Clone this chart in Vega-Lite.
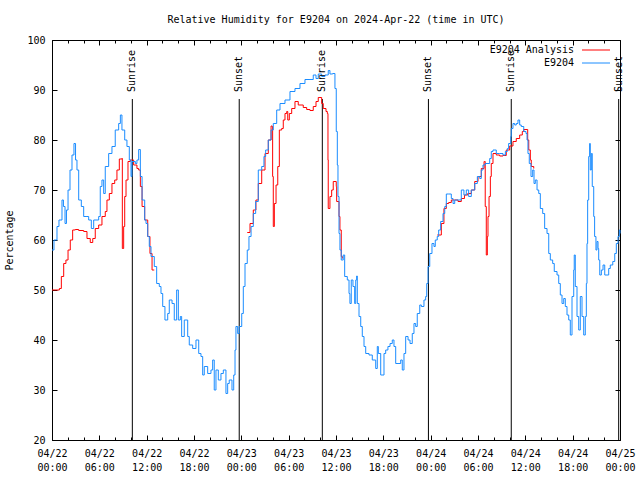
{
  "$schema": "https://vega.github.io/schema/vega-lite/v6.json",
  "width": 568,
  "height": 400,
  "autosize": {"type": "none"},
  "padding": {"left": 52, "top": 40, "right": 20, "bottom": 40},
  "background": "white",
  "title": {"text": "Relative Humidity for E9204 on 2024-Apr-22 (time in UTC)", "font": "DejaVu Sans Mono", "fontSize": 10, "fontWeight": "normal", "color": "black", "anchor": "middle", "frame": "group", "baseline": "bottom", "offset": 0},
  "config": {
    "view": {"stroke": "black", "strokeWidth": 1},
    "font": "DejaVu Sans Mono",
    "axis": {"labelFont": "DejaVu Sans Mono", "labelFontSize": 10, "labelColor": "black", "tickColor": "black", "tickWidth": 1, "domain": false, "grid": false, "titleFont": "DejaVu Sans Mono", "titleFontSize": 10, "titleFontWeight": "normal", "titleColor": "black"}
  },
  "datasets": {
    "sun": [
      {"time": "2024-04-22T10:11:00Z", "event": "Sunrise"},
      {"time": "2024-04-22T23:44:00Z", "event": "Sunset"},
      {"time": "2024-04-23T10:16:00Z", "event": "Sunrise"},
      {"time": "2024-04-23T23:43:00Z", "event": "Sunset"},
      {"time": "2024-04-24T10:13:00Z", "event": "Sunrise"},
      {"time": "2024-04-24T23:50:00Z", "event": "Sunset"}
    ],
    "analysis": [
      {"time": "2024-04-22T00:00:00Z", "rh": 50, "run": 1},
      {"time": "2024-04-22T00:38:00Z", "rh": 50, "run": 1},
      {"time": "2024-04-22T00:56:00Z", "rh": 50.3, "run": 1},
      {"time": "2024-04-22T01:11:00Z", "rh": 52.7, "run": 1},
      {"time": "2024-04-22T01:29:00Z", "rh": 55.3, "run": 1},
      {"time": "2024-04-22T01:46:00Z", "rh": 56, "run": 1},
      {"time": "2024-04-22T02:02:00Z", "rh": 58, "run": 1},
      {"time": "2024-04-22T02:19:00Z", "rh": 60, "run": 1},
      {"time": "2024-04-22T02:37:00Z", "rh": 62, "run": 1},
      {"time": "2024-04-22T02:57:00Z", "rh": 62.1, "run": 1},
      {"time": "2024-04-22T03:23:00Z", "rh": 61.9, "run": 1},
      {"time": "2024-04-22T04:01:00Z", "rh": 61.7, "run": 1},
      {"time": "2024-04-22T04:26:00Z", "rh": 60.3, "run": 1},
      {"time": "2024-04-22T04:51:00Z", "rh": 59.5, "run": 1},
      {"time": "2024-04-22T05:10:00Z", "rh": 60.3, "run": 1},
      {"time": "2024-04-22T05:29:00Z", "rh": 62.3, "run": 1},
      {"time": "2024-04-22T05:55:00Z", "rh": 63, "run": 1},
      {"time": "2024-04-22T06:20:00Z", "rh": 64.7, "run": 1},
      {"time": "2024-04-22T06:45:00Z", "rh": 65.7, "run": 1},
      {"time": "2024-04-22T06:58:00Z", "rh": 68, "run": 1},
      {"time": "2024-04-22T07:16:00Z", "rh": 69.3, "run": 1},
      {"time": "2024-04-22T07:36:00Z", "rh": 71.3, "run": 1},
      {"time": "2024-04-22T07:57:00Z", "rh": 72, "run": 1},
      {"time": "2024-04-22T08:14:00Z", "rh": 74, "run": 1},
      {"time": "2024-04-22T08:32:00Z", "rh": 76.2, "run": 1},
      {"time": "2024-04-22T08:52:00Z", "rh": 76.3, "run": 1},
      {"time": "2024-04-22T08:55:00Z", "rh": 58.3, "run": 1},
      {"time": "2024-04-22T09:05:00Z", "rh": 62.7, "run": 1},
      {"time": "2024-04-22T09:13:00Z", "rh": 68.7, "run": 1},
      {"time": "2024-04-22T09:23:00Z", "rh": 72, "run": 1},
      {"time": "2024-04-22T09:38:00Z", "rh": 75.7, "run": 1},
      {"time": "2024-04-22T09:56:00Z", "rh": 76, "run": 1},
      {"time": "2024-04-22T10:21:00Z", "rh": 75, "run": 1},
      {"time": "2024-04-22T10:46:00Z", "rh": 74.3, "run": 1},
      {"time": "2024-04-22T10:59:00Z", "rh": 74, "run": 1},
      {"time": "2024-04-22T11:12:00Z", "rh": 70.7, "run": 1},
      {"time": "2024-04-22T11:25:00Z", "rh": 66.7, "run": 1},
      {"time": "2024-04-22T11:45:00Z", "rh": 64, "run": 1},
      {"time": "2024-04-22T12:08:00Z", "rh": 60.7, "run": 1},
      {"time": "2024-04-22T12:25:00Z", "rh": 57.3, "run": 1},
      {"time": "2024-04-22T12:41:00Z", "rh": 54, "run": 1},
      {"time": "2024-04-22T12:58:00Z", "rh": 54, "run": 1},
      {"time": "2024-04-23T00:45:00Z", "rh": 61.5, "run": 2},
      {"time": "2024-04-23T01:06:00Z", "rh": 63.3, "run": 2},
      {"time": "2024-04-23T01:31:00Z", "rh": 66, "run": 2},
      {"time": "2024-04-23T01:51:00Z", "rh": 68, "run": 2},
      {"time": "2024-04-23T02:09:00Z", "rh": 71.3, "run": 2},
      {"time": "2024-04-23T02:35:00Z", "rh": 74, "run": 2},
      {"time": "2024-04-23T03:00:00Z", "rh": 77.3, "run": 2},
      {"time": "2024-04-23T03:25:00Z", "rh": 80, "run": 2},
      {"time": "2024-04-23T03:46:00Z", "rh": 82.8, "run": 2},
      {"time": "2024-04-23T03:55:00Z", "rh": 82.7, "run": 2},
      {"time": "2024-04-23T03:58:00Z", "rh": 72.7, "run": 2},
      {"time": "2024-04-23T04:03:00Z", "rh": 62.7, "run": 2},
      {"time": "2024-04-23T04:11:00Z", "rh": 67.3, "run": 2},
      {"time": "2024-04-23T04:24:00Z", "rh": 71, "run": 2},
      {"time": "2024-04-23T04:37:00Z", "rh": 74.7, "run": 2},
      {"time": "2024-04-23T04:49:00Z", "rh": 82, "run": 2},
      {"time": "2024-04-23T05:07:00Z", "rh": 82.3, "run": 2},
      {"time": "2024-04-23T05:19:00Z", "rh": 84, "run": 2},
      {"time": "2024-04-23T05:32:00Z", "rh": 85.3, "run": 2},
      {"time": "2024-04-23T05:45:00Z", "rh": 85.7, "run": 2},
      {"time": "2024-04-23T05:53:00Z", "rh": 84, "run": 2},
      {"time": "2024-04-23T06:05:00Z", "rh": 85.3, "run": 2},
      {"time": "2024-04-23T06:23:00Z", "rh": 86.3, "run": 2},
      {"time": "2024-04-23T06:48:00Z", "rh": 87.7, "run": 2},
      {"time": "2024-04-23T07:13:00Z", "rh": 87, "run": 2},
      {"time": "2024-04-23T07:51:00Z", "rh": 86.5, "run": 2},
      {"time": "2024-04-23T08:17:00Z", "rh": 86.1, "run": 2},
      {"time": "2024-04-23T08:42:00Z", "rh": 85.9, "run": 2},
      {"time": "2024-04-23T09:07:00Z", "rh": 86.7, "run": 2},
      {"time": "2024-04-23T09:28:00Z", "rh": 87.7, "run": 2},
      {"time": "2024-04-23T09:45:00Z", "rh": 88.5, "run": 2},
      {"time": "2024-04-23T09:58:00Z", "rh": 88.5, "run": 2},
      {"time": "2024-04-23T10:11:00Z", "rh": 87.3, "run": 2},
      {"time": "2024-04-23T10:23:00Z", "rh": 86.3, "run": 2},
      {"time": "2024-04-23T10:44:00Z", "rh": 85.7, "run": 2},
      {"time": "2024-04-23T10:54:00Z", "rh": 85.3, "run": 2},
      {"time": "2024-04-23T10:59:00Z", "rh": 76, "run": 2},
      {"time": "2024-04-23T11:01:00Z", "rh": 66.3, "run": 2},
      {"time": "2024-04-23T11:14:00Z", "rh": 68.7, "run": 2},
      {"time": "2024-04-23T11:27:00Z", "rh": 70, "run": 2},
      {"time": "2024-04-23T11:39:00Z", "rh": 71.7, "run": 2},
      {"time": "2024-04-23T12:02:00Z", "rh": 70.7, "run": 2},
      {"time": "2024-04-23T12:05:00Z", "rh": 67.7, "run": 2},
      {"time": "2024-04-23T12:23:00Z", "rh": 64.7, "run": 2},
      {"time": "2024-04-23T12:30:00Z", "rh": 62, "run": 2},
      {"time": "2024-04-23T12:40:00Z", "rh": 56.7, "run": 2},
      {"time": "2024-04-23T12:48:00Z", "rh": 56.3, "run": 2},
      {"time": "2024-04-24T00:50:00Z", "rh": 61, "run": 3},
      {"time": "2024-04-24T01:21:00Z", "rh": 63.3, "run": 3},
      {"time": "2024-04-24T01:41:00Z", "rh": 66.3, "run": 3},
      {"time": "2024-04-24T01:59:00Z", "rh": 67.3, "run": 3},
      {"time": "2024-04-24T02:17:00Z", "rh": 67.5, "run": 3},
      {"time": "2024-04-24T02:37:00Z", "rh": 68, "run": 3},
      {"time": "2024-04-24T03:03:00Z", "rh": 68, "run": 3},
      {"time": "2024-04-24T03:28:00Z", "rh": 67.7, "run": 3},
      {"time": "2024-04-24T03:53:00Z", "rh": 68.3, "run": 3},
      {"time": "2024-04-24T04:17:00Z", "rh": 69, "run": 3},
      {"time": "2024-04-24T04:42:00Z", "rh": 69.3, "run": 3},
      {"time": "2024-04-24T05:09:00Z", "rh": 70, "run": 3},
      {"time": "2024-04-24T05:35:00Z", "rh": 71.7, "run": 3},
      {"time": "2024-04-24T06:00:00Z", "rh": 72.7, "run": 3},
      {"time": "2024-04-24T06:25:00Z", "rh": 74.3, "run": 3},
      {"time": "2024-04-24T06:46:00Z", "rh": 75.7, "run": 3},
      {"time": "2024-04-24T06:51:00Z", "rh": 75.7, "run": 3},
      {"time": "2024-04-24T06:55:00Z", "rh": 66.7, "run": 3},
      {"time": "2024-04-24T07:03:00Z", "rh": 57, "run": 3},
      {"time": "2024-04-24T07:11:00Z", "rh": 60.7, "run": 3},
      {"time": "2024-04-24T07:16:00Z", "rh": 64.7, "run": 3},
      {"time": "2024-04-24T07:24:00Z", "rh": 68.7, "run": 3},
      {"time": "2024-04-24T07:34:00Z", "rh": 72.7, "run": 3},
      {"time": "2024-04-24T07:41:00Z", "rh": 75.3, "run": 3},
      {"time": "2024-04-24T07:54:00Z", "rh": 77.3, "run": 3},
      {"time": "2024-04-24T08:19:00Z", "rh": 77, "run": 3},
      {"time": "2024-04-24T08:45:00Z", "rh": 76.8, "run": 3},
      {"time": "2024-04-24T09:10:00Z", "rh": 76.9, "run": 3},
      {"time": "2024-04-24T09:35:00Z", "rh": 78, "run": 3},
      {"time": "2024-04-24T10:01:00Z", "rh": 78.8, "run": 3},
      {"time": "2024-04-24T10:26:00Z", "rh": 79.7, "run": 3},
      {"time": "2024-04-24T10:51:00Z", "rh": 80.3, "run": 3},
      {"time": "2024-04-24T11:17:00Z", "rh": 81, "run": 3},
      {"time": "2024-04-24T11:37:00Z", "rh": 81.7, "run": 3},
      {"time": "2024-04-24T11:48:00Z", "rh": 82.1, "run": 3},
      {"time": "2024-04-24T12:05:00Z", "rh": 82.1, "run": 3},
      {"time": "2024-04-24T12:18:00Z", "rh": 80, "run": 3},
      {"time": "2024-04-24T12:26:00Z", "rh": 78, "run": 3},
      {"time": "2024-04-24T12:38:00Z", "rh": 76, "run": 3},
      {"time": "2024-04-24T12:45:00Z", "rh": 74.7, "run": 3},
      {"time": "2024-04-24T13:04:00Z", "rh": 74.3, "run": 3}
    ],
    "obs": [
      {"time": "2024-04-22T00:00:00Z", "rh": 58},
      {"time": "2024-04-22T00:15:00Z", "rh": 60},
      {"time": "2024-04-22T00:38:00Z", "rh": 62.7},
      {"time": "2024-04-22T00:53:00Z", "rh": 64},
      {"time": "2024-04-22T01:16:00Z", "rh": 68},
      {"time": "2024-04-22T01:27:00Z", "rh": 66.7},
      {"time": "2024-04-22T01:39:00Z", "rh": 63.3},
      {"time": "2024-04-22T01:50:00Z", "rh": 66},
      {"time": "2024-04-22T02:02:00Z", "rh": 70},
      {"time": "2024-04-22T02:17:00Z", "rh": 74},
      {"time": "2024-04-22T02:32:00Z", "rh": 77},
      {"time": "2024-04-22T02:47:00Z", "rh": 79.3},
      {"time": "2024-04-22T02:59:00Z", "rh": 76},
      {"time": "2024-04-22T03:10:00Z", "rh": 74},
      {"time": "2024-04-22T03:23:00Z", "rh": 68},
      {"time": "2024-04-22T03:43:00Z", "rh": 66.7},
      {"time": "2024-04-22T04:01:00Z", "rh": 64.7},
      {"time": "2024-04-22T04:19:00Z", "rh": 64.7},
      {"time": "2024-04-22T04:39:00Z", "rh": 64},
      {"time": "2024-04-22T04:59:00Z", "rh": 62.3},
      {"time": "2024-04-22T05:17:00Z", "rh": 64},
      {"time": "2024-04-22T05:35:00Z", "rh": 64},
      {"time": "2024-04-22T05:55:00Z", "rh": 64.7},
      {"time": "2024-04-22T06:07:00Z", "rh": 70.7},
      {"time": "2024-04-22T06:20:00Z", "rh": 72},
      {"time": "2024-04-22T06:33:00Z", "rh": 69.3},
      {"time": "2024-04-22T06:45:00Z", "rh": 74.7},
      {"time": "2024-04-22T07:11:00Z", "rh": 77.3},
      {"time": "2024-04-22T07:36:00Z", "rh": 78.7},
      {"time": "2024-04-22T08:01:00Z", "rh": 82},
      {"time": "2024-04-22T08:27:00Z", "rh": 83.3},
      {"time": "2024-04-22T08:40:00Z", "rh": 85},
      {"time": "2024-04-22T08:52:00Z", "rh": 82},
      {"time": "2024-04-22T09:13:00Z", "rh": 80},
      {"time": "2024-04-22T09:30:00Z", "rh": 78.7},
      {"time": "2024-04-22T09:48:00Z", "rh": 76},
      {"time": "2024-04-22T10:01:00Z", "rh": 72.7},
      {"time": "2024-04-22T10:08:00Z", "rh": 75.7},
      {"time": "2024-04-22T10:34:00Z", "rh": 75.3},
      {"time": "2024-04-22T10:46:00Z", "rh": 76},
      {"time": "2024-04-22T10:59:00Z", "rh": 78.1},
      {"time": "2024-04-22T11:12:00Z", "rh": 72.7},
      {"time": "2024-04-22T11:25:00Z", "rh": 68},
      {"time": "2024-04-22T11:45:00Z", "rh": 64},
      {"time": "2024-04-22T11:55:00Z", "rh": 63.3},
      {"time": "2024-04-22T12:08:00Z", "rh": 60.7},
      {"time": "2024-04-22T12:20:00Z", "rh": 58.7},
      {"time": "2024-04-22T12:33:00Z", "rh": 56.7},
      {"time": "2024-04-22T12:58:00Z", "rh": 54.7},
      {"time": "2024-04-22T13:16:00Z", "rh": 51.3},
      {"time": "2024-04-22T13:36:00Z", "rh": 50.7},
      {"time": "2024-04-22T13:49:00Z", "rh": 49.3},
      {"time": "2024-04-22T14:02:00Z", "rh": 46.7},
      {"time": "2024-04-22T14:19:00Z", "rh": 44},
      {"time": "2024-04-22T14:40:00Z", "rh": 45.3},
      {"time": "2024-04-22T14:52:00Z", "rh": 48},
      {"time": "2024-04-22T15:13:00Z", "rh": 47.3},
      {"time": "2024-04-22T15:30:00Z", "rh": 44},
      {"time": "2024-04-22T15:48:00Z", "rh": 50},
      {"time": "2024-04-22T16:01:00Z", "rh": 44},
      {"time": "2024-04-22T16:16:00Z", "rh": 44.7},
      {"time": "2024-04-22T16:26:00Z", "rh": 40.7},
      {"time": "2024-04-22T16:46:00Z", "rh": 44},
      {"time": "2024-04-22T16:59:00Z", "rh": 44},
      {"time": "2024-04-22T17:12:00Z", "rh": 40.7},
      {"time": "2024-04-22T17:24:00Z", "rh": 39},
      {"time": "2024-04-22T17:50:00Z", "rh": 38.3},
      {"time": "2024-04-22T18:15:00Z", "rh": 40},
      {"time": "2024-04-22T18:36:00Z", "rh": 37.3},
      {"time": "2024-04-22T18:53:00Z", "rh": 36.7},
      {"time": "2024-04-22T19:06:00Z", "rh": 33},
      {"time": "2024-04-22T19:18:00Z", "rh": 34.7},
      {"time": "2024-04-22T19:44:00Z", "rh": 33.3},
      {"time": "2024-04-22T20:09:00Z", "rh": 34},
      {"time": "2024-04-22T20:22:00Z", "rh": 36},
      {"time": "2024-04-22T20:34:00Z", "rh": 30},
      {"time": "2024-04-22T20:47:00Z", "rh": 34},
      {"time": "2024-04-22T21:05:00Z", "rh": 32},
      {"time": "2024-04-22T21:25:00Z", "rh": 33.3},
      {"time": "2024-04-22T21:43:00Z", "rh": 34},
      {"time": "2024-04-22T22:03:00Z", "rh": 29.3},
      {"time": "2024-04-22T22:16:00Z", "rh": 31.3},
      {"time": "2024-04-22T22:28:00Z", "rh": 32},
      {"time": "2024-04-22T22:49:00Z", "rh": 30},
      {"time": "2024-04-22T23:02:00Z", "rh": 33},
      {"time": "2024-04-22T23:12:00Z", "rh": 38},
      {"time": "2024-04-22T23:19:00Z", "rh": 42.7},
      {"time": "2024-04-22T23:32:00Z", "rh": 41.3},
      {"time": "2024-04-22T23:44:00Z", "rh": 42.7},
      {"time": "2024-04-23T00:03:00Z", "rh": 45.3},
      {"time": "2024-04-23T00:15:00Z", "rh": 50.7},
      {"time": "2024-04-23T00:28:00Z", "rh": 55.3},
      {"time": "2024-04-23T00:45:00Z", "rh": 58},
      {"time": "2024-04-23T00:58:00Z", "rh": 60.7},
      {"time": "2024-04-23T01:14:00Z", "rh": 62.7},
      {"time": "2024-04-23T01:31:00Z", "rh": 65.3},
      {"time": "2024-04-23T01:49:00Z", "rh": 67.7},
      {"time": "2024-04-23T02:09:00Z", "rh": 74},
      {"time": "2024-04-23T02:35:00Z", "rh": 74.7},
      {"time": "2024-04-23T02:52:00Z", "rh": 76.7},
      {"time": "2024-04-23T03:05:00Z", "rh": 78},
      {"time": "2024-04-23T03:25:00Z", "rh": 80},
      {"time": "2024-04-23T03:46:00Z", "rh": 82},
      {"time": "2024-04-23T04:03:00Z", "rh": 83.3},
      {"time": "2024-04-23T04:29:00Z", "rh": 86},
      {"time": "2024-04-23T04:54:00Z", "rh": 87.3},
      {"time": "2024-04-23T05:32:00Z", "rh": 88},
      {"time": "2024-04-23T06:10:00Z", "rh": 89.7},
      {"time": "2024-04-23T06:48:00Z", "rh": 90.3},
      {"time": "2024-04-23T07:26:00Z", "rh": 91.3},
      {"time": "2024-04-23T08:04:00Z", "rh": 92.1},
      {"time": "2024-04-23T08:42:00Z", "rh": 92.1},
      {"time": "2024-04-23T09:07:00Z", "rh": 93},
      {"time": "2024-04-23T09:28:00Z", "rh": 92.3},
      {"time": "2024-04-23T09:45:00Z", "rh": 93.2},
      {"time": "2024-04-23T10:11:00Z", "rh": 92.7},
      {"time": "2024-04-23T10:36:00Z", "rh": 93},
      {"time": "2024-04-23T11:01:00Z", "rh": 93.9},
      {"time": "2024-04-23T11:14:00Z", "rh": 93.2},
      {"time": "2024-04-23T11:35:00Z", "rh": 93.3},
      {"time": "2024-04-23T11:52:00Z", "rh": 90.3},
      {"time": "2024-04-23T12:02:00Z", "rh": 81.7},
      {"time": "2024-04-23T12:10:00Z", "rh": 75},
      {"time": "2024-04-23T12:15:00Z", "rh": 68.7},
      {"time": "2024-04-23T12:23:00Z", "rh": 61.3},
      {"time": "2024-04-23T12:30:00Z", "rh": 58},
      {"time": "2024-04-23T12:40:00Z", "rh": 56},
      {"time": "2024-04-23T12:55:00Z", "rh": 57},
      {"time": "2024-04-23T13:06:00Z", "rh": 52.7},
      {"time": "2024-04-23T13:26:00Z", "rh": 52},
      {"time": "2024-04-23T13:39:00Z", "rh": 49.3},
      {"time": "2024-04-23T13:46:00Z", "rh": 47.3},
      {"time": "2024-04-23T13:56:00Z", "rh": 52},
      {"time": "2024-04-23T14:09:00Z", "rh": 50.7},
      {"time": "2024-04-23T14:22:00Z", "rh": 47.3},
      {"time": "2024-04-23T14:30:00Z", "rh": 52},
      {"time": "2024-04-23T14:37:00Z", "rh": 52.8},
      {"time": "2024-04-23T14:42:00Z", "rh": 47.3},
      {"time": "2024-04-23T14:55:00Z", "rh": 44.7},
      {"time": "2024-04-23T15:08:00Z", "rh": 42.7},
      {"time": "2024-04-23T15:20:00Z", "rh": 40.7},
      {"time": "2024-04-23T15:33:00Z", "rh": 38.7},
      {"time": "2024-04-23T15:46:00Z", "rh": 37.3},
      {"time": "2024-04-23T16:11:00Z", "rh": 37},
      {"time": "2024-04-23T16:36:00Z", "rh": 36},
      {"time": "2024-04-23T17:02:00Z", "rh": 34.3},
      {"time": "2024-04-23T17:14:00Z", "rh": 38.7},
      {"time": "2024-04-23T17:22:00Z", "rh": 37.3},
      {"time": "2024-04-23T17:40:00Z", "rh": 33},
      {"time": "2024-04-23T17:57:00Z", "rh": 33},
      {"time": "2024-04-23T18:05:00Z", "rh": 37.3},
      {"time": "2024-04-23T18:18:00Z", "rh": 38},
      {"time": "2024-04-23T18:35:00Z", "rh": 38.7},
      {"time": "2024-04-23T18:51:00Z", "rh": 39.3},
      {"time": "2024-04-23T19:08:00Z", "rh": 40},
      {"time": "2024-04-23T19:21:00Z", "rh": 38.7},
      {"time": "2024-04-23T19:34:00Z", "rh": 35.3},
      {"time": "2024-04-23T19:59:00Z", "rh": 35.3},
      {"time": "2024-04-23T20:12:00Z", "rh": 36},
      {"time": "2024-04-23T20:24:00Z", "rh": 34},
      {"time": "2024-04-23T20:37:00Z", "rh": 37.3},
      {"time": "2024-04-23T20:50:00Z", "rh": 40.7},
      {"time": "2024-04-23T21:08:00Z", "rh": 40},
      {"time": "2024-04-23T21:23:00Z", "rh": 39.3},
      {"time": "2024-04-23T21:40:00Z", "rh": 41.3},
      {"time": "2024-04-23T21:53:00Z", "rh": 43.3},
      {"time": "2024-04-23T22:06:00Z", "rh": 42.7},
      {"time": "2024-04-23T22:18:00Z", "rh": 45.3},
      {"time": "2024-04-23T22:37:00Z", "rh": 47},
      {"time": "2024-04-23T22:49:00Z", "rh": 46.7},
      {"time": "2024-04-23T23:09:00Z", "rh": 48},
      {"time": "2024-04-23T23:22:00Z", "rh": 48.7},
      {"time": "2024-04-23T23:30:00Z", "rh": 51.3},
      {"time": "2024-04-23T23:40:00Z", "rh": 54.7},
      {"time": "2024-04-23T23:53:00Z", "rh": 57.3},
      {"time": "2024-04-24T00:10:00Z", "rh": 59.3},
      {"time": "2024-04-24T00:25:00Z", "rh": 58.7},
      {"time": "2024-04-24T00:35:00Z", "rh": 60},
      {"time": "2024-04-24T00:50:00Z", "rh": 60.7},
      {"time": "2024-04-24T01:01:00Z", "rh": 62},
      {"time": "2024-04-24T01:16:00Z", "rh": 63.7},
      {"time": "2024-04-24T01:34:00Z", "rh": 65.3},
      {"time": "2024-04-24T01:47:00Z", "rh": 66.7},
      {"time": "2024-04-24T01:59:00Z", "rh": 69.2},
      {"time": "2024-04-24T02:17:00Z", "rh": 69.2},
      {"time": "2024-04-24T02:37:00Z", "rh": 68.3},
      {"time": "2024-04-24T02:50:00Z", "rh": 67.3},
      {"time": "2024-04-24T03:03:00Z", "rh": 68},
      {"time": "2024-04-24T03:28:00Z", "rh": 68},
      {"time": "2024-04-24T03:53:00Z", "rh": 70},
      {"time": "2024-04-24T04:13:00Z", "rh": 69},
      {"time": "2024-04-24T04:31:00Z", "rh": 70},
      {"time": "2024-04-24T04:49:00Z", "rh": 68.7},
      {"time": "2024-04-24T05:09:00Z", "rh": 70},
      {"time": "2024-04-24T05:35:00Z", "rh": 71.3},
      {"time": "2024-04-24T05:55:00Z", "rh": 72.7},
      {"time": "2024-04-24T06:13:00Z", "rh": 72.3},
      {"time": "2024-04-24T06:25:00Z", "rh": 74},
      {"time": "2024-04-24T06:38:00Z", "rh": 75},
      {"time": "2024-04-24T06:55:00Z", "rh": 75.3},
      {"time": "2024-04-24T07:16:00Z", "rh": 75.3},
      {"time": "2024-04-24T07:29:00Z", "rh": 76.3},
      {"time": "2024-04-24T07:41:00Z", "rh": 77.7},
      {"time": "2024-04-24T07:54:00Z", "rh": 78},
      {"time": "2024-04-24T08:19:00Z", "rh": 77.3},
      {"time": "2024-04-24T08:45:00Z", "rh": 77.3},
      {"time": "2024-04-24T09:10:00Z", "rh": 77},
      {"time": "2024-04-24T09:28:00Z", "rh": 77.7},
      {"time": "2024-04-24T09:43:00Z", "rh": 78.3},
      {"time": "2024-04-24T09:53:00Z", "rh": 79.3},
      {"time": "2024-04-24T10:09:00Z", "rh": 80.7},
      {"time": "2024-04-24T10:13:00Z", "rh": 82.3},
      {"time": "2024-04-24T10:26:00Z", "rh": 83.3},
      {"time": "2024-04-24T10:39:00Z", "rh": 83},
      {"time": "2024-04-24T10:51:00Z", "rh": 83.3},
      {"time": "2024-04-24T11:04:00Z", "rh": 84},
      {"time": "2024-04-24T11:17:00Z", "rh": 83},
      {"time": "2024-04-24T11:29:00Z", "rh": 82.7},
      {"time": "2024-04-24T11:48:00Z", "rh": 81.7},
      {"time": "2024-04-24T12:05:00Z", "rh": 81.3},
      {"time": "2024-04-24T12:13:00Z", "rh": 80},
      {"time": "2024-04-24T12:20:00Z", "rh": 77.3},
      {"time": "2024-04-24T12:30:00Z", "rh": 75.3},
      {"time": "2024-04-24T12:43:00Z", "rh": 72.7},
      {"time": "2024-04-24T12:56:00Z", "rh": 74},
      {"time": "2024-04-24T13:06:00Z", "rh": 71.3},
      {"time": "2024-04-24T13:16:00Z", "rh": 72},
      {"time": "2024-04-24T13:29:00Z", "rh": 70},
      {"time": "2024-04-24T13:42:00Z", "rh": 69.3},
      {"time": "2024-04-24T13:54:00Z", "rh": 66.3},
      {"time": "2024-04-24T14:12:00Z", "rh": 65.3},
      {"time": "2024-04-24T14:27:00Z", "rh": 62.3},
      {"time": "2024-04-24T14:45:00Z", "rh": 61.3},
      {"time": "2024-04-24T14:58:00Z", "rh": 57.3},
      {"time": "2024-04-24T15:10:00Z", "rh": 56},
      {"time": "2024-04-24T15:28:00Z", "rh": 55.3},
      {"time": "2024-04-24T15:40:00Z", "rh": 53.7},
      {"time": "2024-04-24T16:01:00Z", "rh": 53},
      {"time": "2024-04-24T16:14:00Z", "rh": 51.3},
      {"time": "2024-04-24T16:26:00Z", "rh": 49},
      {"time": "2024-04-24T16:39:00Z", "rh": 47.3},
      {"time": "2024-04-24T16:52:00Z", "rh": 48.3},
      {"time": "2024-04-24T17:04:00Z", "rh": 46.7},
      {"time": "2024-04-24T17:17:00Z", "rh": 45},
      {"time": "2024-04-24T17:30:00Z", "rh": 44},
      {"time": "2024-04-24T17:42:00Z", "rh": 41},
      {"time": "2024-04-24T17:55:00Z", "rh": 48.7},
      {"time": "2024-04-24T18:08:00Z", "rh": 54},
      {"time": "2024-04-24T18:12:00Z", "rh": 57},
      {"time": "2024-04-24T18:20:00Z", "rh": 50.7},
      {"time": "2024-04-24T18:33:00Z", "rh": 44.7},
      {"time": "2024-04-24T18:46:00Z", "rh": 42},
      {"time": "2024-04-24T18:58:00Z", "rh": 48.7},
      {"time": "2024-04-24T19:11:00Z", "rh": 44.7},
      {"time": "2024-04-24T19:24:00Z", "rh": 41},
      {"time": "2024-04-24T19:36:00Z", "rh": 44.7},
      {"time": "2024-04-24T19:44:00Z", "rh": 51.3},
      {"time": "2024-04-24T19:49:00Z", "rh": 59.3},
      {"time": "2024-04-24T19:54:00Z", "rh": 68},
      {"time": "2024-04-24T20:02:00Z", "rh": 76.7},
      {"time": "2024-04-24T20:09:00Z", "rh": 79.3},
      {"time": "2024-04-24T20:14:00Z", "rh": 74},
      {"time": "2024-04-24T20:22:00Z", "rh": 77.3},
      {"time": "2024-04-24T20:29:00Z", "rh": 70.7},
      {"time": "2024-04-24T20:40:00Z", "rh": 64.7},
      {"time": "2024-04-24T20:47:00Z", "rh": 60.7},
      {"time": "2024-04-24T20:57:00Z", "rh": 58},
      {"time": "2024-04-24T21:05:00Z", "rh": 59.7},
      {"time": "2024-04-24T21:13:00Z", "rh": 58.3},
      {"time": "2024-04-24T21:18:00Z", "rh": 56},
      {"time": "2024-04-24T21:26:00Z", "rh": 53},
      {"time": "2024-04-24T21:38:00Z", "rh": 54},
      {"time": "2024-04-24T21:51:00Z", "rh": 55},
      {"time": "2024-04-24T22:04:00Z", "rh": 53},
      {"time": "2024-04-24T22:21:00Z", "rh": 53},
      {"time": "2024-04-24T22:34:00Z", "rh": 54.3},
      {"time": "2024-04-24T22:46:00Z", "rh": 55},
      {"time": "2024-04-24T23:05:00Z", "rh": 55.7},
      {"time": "2024-04-24T23:20:00Z", "rh": 57.3},
      {"time": "2024-04-24T23:32:00Z", "rh": 59.3},
      {"time": "2024-04-24T23:45:00Z", "rh": 60.7},
      {"time": "2024-04-24T23:55:00Z", "rh": 62},
      {"time": "2024-04-25T00:00:00Z", "rh": 61.3}
    ]
  },
  "layer": [
    {
      "data": {"name": "sun"},
      "mark": {"type": "rule", "color": "black", "strokeWidth": 1},
      "encoding": {
        "x": {"field": "time", "type": "temporal",
          "scale": {"type": "utc", "domain": [1713744000000, 1714003200000]},
          "axis": {"orient": "bottom", "values": [1713744000000, 1713765600000, 1713787200000, 1713808800000, 1713830400000, 1713852000000, 1713873600000, 1713895200000, 1713916800000, 1713938400000, 1713960000000, 1713981600000, 1714003200000], "labelExpr": "[utcFormat(datum.value, '%m/%d'), utcFormat(datum.value, '%H:%M')]", "tickSize": -5, "labelPadding": 13, "labelAngle": 0, "labelAlign": "center", "labelBaseline": "top", "labelLineHeight": 14, "labelFlush": false, "labelOverlap": false, "title": null}},
        "y": {"datum": 88.2, "type": "quantitative",
          "scale": {"domain": [20, 100], "nice": false, "zero": false},
          "axis": {"orient": "left", "values": [20, 30, 40, 50, 60, 70, 80, 90, 100], "tickSize": -5, "labelPadding": 12, "title": "Percentage", "titlePadding": 12}},
        "y2": {"datum": 20}
      }
    },
    {
      "data": {"name": "analysis"},
      "mark": {"type": "line", "interpolate": "step-after", "strokeWidth": 1},
      "encoding": {
        "x": {"field": "time", "type": "temporal", "axis": {"orient": "bottom", "values": [1713744000000, 1713751200000, 1713758400000, 1713765600000, 1713772800000, 1713780000000, 1713787200000, 1713794400000, 1713801600000, 1713808800000, 1713816000000, 1713823200000, 1713830400000, 1713837600000, 1713844800000, 1713852000000, 1713859200000, 1713866400000, 1713873600000, 1713880800000, 1713888000000, 1713895200000, 1713902400000, 1713909600000, 1713916800000, 1713924000000, 1713931200000, 1713938400000, 1713945600000, 1713952800000, 1713960000000, 1713967200000, 1713974400000, 1713981600000, 1713988800000, 1713996000000, 1714003200000], "tickSize": -3, "labels": false, "title": null}},
        "y": {"field": "rh", "type": "quantitative", "axis": null},
        "detail": {"field": "run", "type": "nominal"},
        "color": {"datum": "E9204 Analysis", "type": "nominal",
          "scale": {"domain": ["E9204 Analysis", "E9204"], "range": ["#ff0000", "#1a8cff"]},
          "legend": {"title": null, "orient": "none", "legendX": 490, "legendY": 2.5, "padding": 0, "symbolType": "M-2,0L2,0", "symbolSize": 196, "symbolStrokeWidth": 1, "symbolOffset": 46.5, "labelAlign": "right", "labelOffset": -29.5, "labelFont": "DejaVu Sans Mono", "labelFontSize": 10, "labelColor": "black", "rowPadding": 0, "labelLimit": 200}}
      }
    },
    {
      "data": {"name": "obs"},
      "mark": {"type": "line", "interpolate": "step-after", "strokeWidth": 1},
      "encoding": {
        "x": {"field": "time", "type": "temporal", "axis": {"orient": "top", "values": [1713744000000, 1713751200000, 1713758400000, 1713765600000, 1713772800000, 1713780000000, 1713787200000, 1713794400000, 1713801600000, 1713808800000, 1713816000000, 1713823200000, 1713830400000, 1713837600000, 1713844800000, 1713852000000, 1713859200000, 1713866400000, 1713873600000, 1713880800000, 1713888000000, 1713895200000, 1713902400000, 1713909600000, 1713916800000, 1713924000000, 1713931200000, 1713938400000, 1713945600000, 1713952800000, 1713960000000, 1713967200000, 1713974400000, 1713981600000, 1713988800000, 1713996000000, 1714003200000], "tickSize": -3, "labels": false, "title": null}},
        "y": {"field": "rh", "type": "quantitative", "axis": null},
        "color": {"datum": "E9204", "type": "nominal"}
      }
    },
    {
      "data": {"name": "sun"},
      "mark": {"type": "text", "angle": 270, "align": "left", "baseline": "middle", "font": "DejaVu Sans Mono", "fontSize": 10, "color": "black"},
      "encoding": {
        "x": {"field": "time", "type": "temporal", "axis": {"orient": "top", "values": [1713744000000, 1713765600000, 1713787200000, 1713808800000, 1713830400000, 1713852000000, 1713873600000, 1713895200000, 1713916800000, 1713938400000, 1713960000000, 1713981600000, 1714003200000], "tickSize": -5, "labels": false, "title": null}},
        "y": {"datum": 89.6, "type": "quantitative", "axis": {"orient": "right", "values": [20, 30, 40, 50, 60, 70, 80, 90, 100], "tickSize": -5, "labels": false, "title": null}},
        "text": {"field": "event"}
      }
    }
  ],
  "resolve": {"axis": {"x": "independent", "y": "independent"}}
}
